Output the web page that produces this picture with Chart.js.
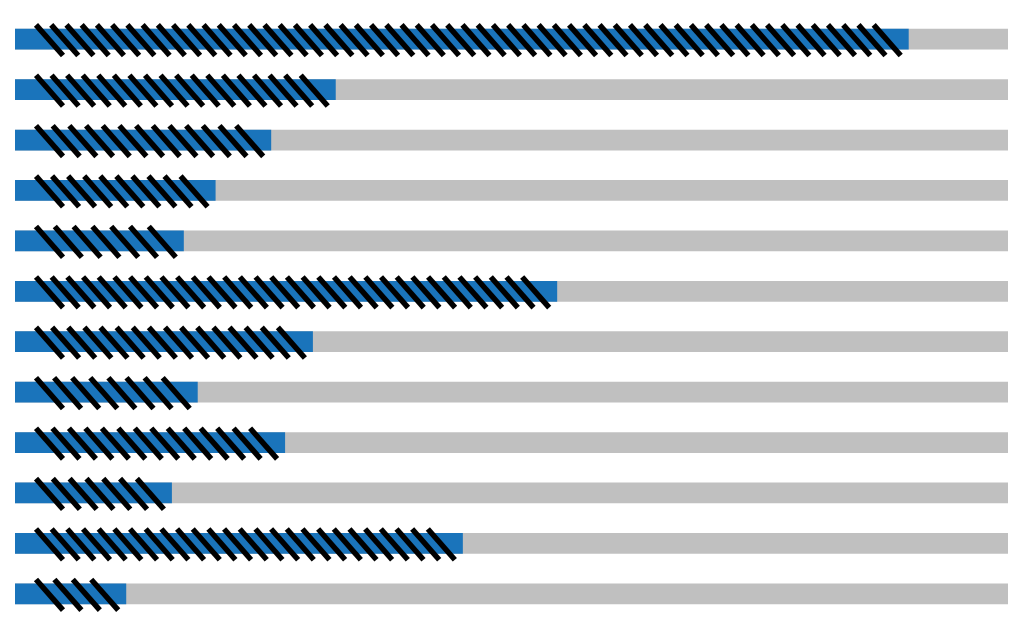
<!DOCTYPE html>
<html>
<head>
<meta charset="utf-8">
<script src="https://cdn.jsdelivr.net/npm/chart.js@4"></script>
<style>
  html, body { margin: 0; padding: 0; background: #ffffff; }
  #wrap { width: 1024px; height: 626px; position: relative; }
</style>
</head>
<body>
<div id="wrap"><canvas id="hatchChart"></canvas></div>
<script>
const categories = ['1', '2', '3', '4', '5', '6', '7', '8', '9', '10', '11', '12'];
const values = [90, 32.3, 25.8, 20.2, 17.0, 54.6, 30.0, 18.4, 27.2, 15.8, 45.1, 11.2];
const maxValue = 100;
const track = categories.map(() => maxValue);

// black slanted strokes laid over each blue bar
const hatchMarks = {
    id: 'hatchMarks',
    afterDatasetsDraw(chart) {
        const meta = chart.getDatasetMeta(0);
        const c = chart.ctx;
        c.save();
        c.strokeStyle = '#000000';
        c.lineWidth = 5.5;
        c.lineCap = 'butt';
        meta.data.forEach(bar => {
            const len = bar.x - bar.base;
            const n = Math.floor((len - 50) / 15);
            if (n < 1) return;
            const top = bar.y - bar.height / 2;
            const bottom = bar.y + bar.height / 2;
            const first = bar.base + 21;
            const last = bar.x - 35;
            const step = n > 1 ? (last - first) / (n - 1) : 0;
            for (let i = 0; i < n; i++) {
                const sx = first + i * step;
                c.beginPath();
                c.moveTo(sx, top - 4);
                c.lineTo(sx + 27, bottom + 6);
                c.stroke();
            }
        });
        c.restore();
    }
};

const ctx = document.getElementById('hatchChart');

new Chart(ctx, {
    type: 'bar',
    data: {
        labels: categories,
        datasets: [
            {
                data: values,
                backgroundColor: '#1a74bb',
                grouped: false,
                order: 0
            },
            {
                data: track,
                backgroundColor: '#c0c0c0',
                grouped: false,
                order: 1
            }
        ]
    },
    options: {
        indexAxis: 'y',
        responsive: true,
        maintainAspectRatio: false,
        animation: false,
        barPercentage: 1,
        categoryPercentage: 0.41,
        layout: { padding: { left: 15, right: 16, top: 14, bottom: 7 } },
        plugins: { legend: { display: false }, tooltip: { enabled: false } },
        scales: {
            x: { display: false, min: 0, max: maxValue },
            y: { display: false }
        }
    },
    plugins: [hatchMarks]
});
</script>
</body>
</html>
